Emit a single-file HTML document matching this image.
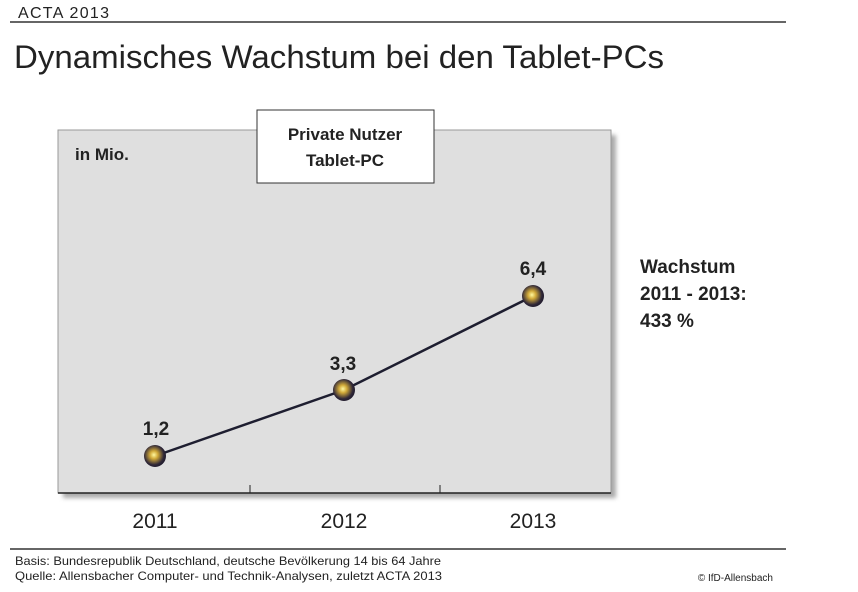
<!DOCTYPE html>
<html><head><meta charset="utf-8"><style>
body{margin:0;width:858px;height:587px;background:#fff;overflow:hidden;font-family:"Liberation Sans",sans-serif;}
</style></head><body>
<svg width="858" height="587" xmlns="http://www.w3.org/2000/svg">
<defs>
<radialGradient id="g" cx="0.45" cy="0.45" r="0.6">
<stop offset="0" stop-color="#fff8a0"/><stop offset="0.3" stop-color="#d0a838"/><stop offset="0.75" stop-color="#302838"/><stop offset="1" stop-color="#1a1628"/>
</radialGradient>
<filter id="s"><feGaussianBlur stdDeviation="2"/></filter>
</defs>
<text x="18" y="18" font-size="16" fill="#222" textLength="91" font-weight="300">ACTA 2013</text>
<line x1="10" y1="22" x2="786" y2="22" stroke="#333" stroke-width="1.5"/>
<text x="14" y="68" font-size="32" fill="#222" textLength="650" lengthAdjust="spacingAndGlyphs" font-weight="300">Dynamisches Wachstum bei den Tablet-PCs</text>
<rect x="63" y="135" width="553" height="363" fill="#aaa" filter="url(#s)"/>
<rect x="58" y="130" width="553" height="363" fill="#dfdfdf" stroke="#999"/>
<line x1="58" y1="493" x2="611" y2="493" stroke="#222" stroke-width="1.5"/>
<line x1="250" y1="485" x2="250" y2="493" stroke="#222"/>
<line x1="440" y1="485" x2="440" y2="493" stroke="#222"/>
<rect x="257" y="110" width="177" height="73" fill="#fff" stroke="#333"/>
<text x="345" y="140" font-size="17" font-weight="bold" text-anchor="middle" fill="#222">Private Nutzer</text>
<text x="345" y="166" font-size="17" font-weight="bold" text-anchor="middle" fill="#222">Tablet-PC</text>
<text x="75" y="160" font-size="17" font-weight="bold" fill="#222">in Mio.</text>
<polyline points="155,456 344,390 533,296" fill="none" stroke="#1e1e30" stroke-width="2.5"/>
<circle cx="155" cy="456" r="11" fill="url(#g)"/>
<circle cx="344" cy="390" r="11" fill="url(#g)"/>
<circle cx="533" cy="296" r="11" fill="url(#g)"/>
<text x="156" y="435" font-size="19" font-weight="bold" text-anchor="middle" fill="#222">1,2</text>
<text x="343" y="370" font-size="19" font-weight="bold" text-anchor="middle" fill="#222">3,3</text>
<text x="533" y="275" font-size="19" font-weight="bold" text-anchor="middle" fill="#222">6,4</text>
<text x="155" y="528" font-size="21" text-anchor="middle" fill="#222" font-weight="300">2011</text>
<text x="344" y="528" font-size="21" text-anchor="middle" fill="#222" font-weight="300">2012</text>
<text x="533" y="528" font-size="21" text-anchor="middle" fill="#222" font-weight="300">2013</text>
<text x="640" y="273" font-size="19" font-weight="bold" fill="#222">Wachstum</text>
<text x="640" y="300" font-size="19" font-weight="bold" fill="#222">2011 - 2013:</text>
<text x="640" y="327" font-size="19" font-weight="bold" fill="#222">433 %</text>
<line x1="10" y1="549" x2="786" y2="549" stroke="#333" stroke-width="1.5"/>
<text x="15" y="565" font-size="12" fill="#222" textLength="426" lengthAdjust="spacingAndGlyphs">Basis: Bundesrepublik Deutschland, deutsche Bevölkerung 14 bis 64 Jahre</text>
<text x="15" y="580" font-size="12" fill="#222" textLength="427" lengthAdjust="spacingAndGlyphs">Quelle: Allensbacher Computer- und Technik-Analysen, zuletzt ACTA 2013</text>
<text x="773" y="581" font-size="10" text-anchor="end" fill="#222">© IfD-Allensbach</text>
</svg>
</body></html>
